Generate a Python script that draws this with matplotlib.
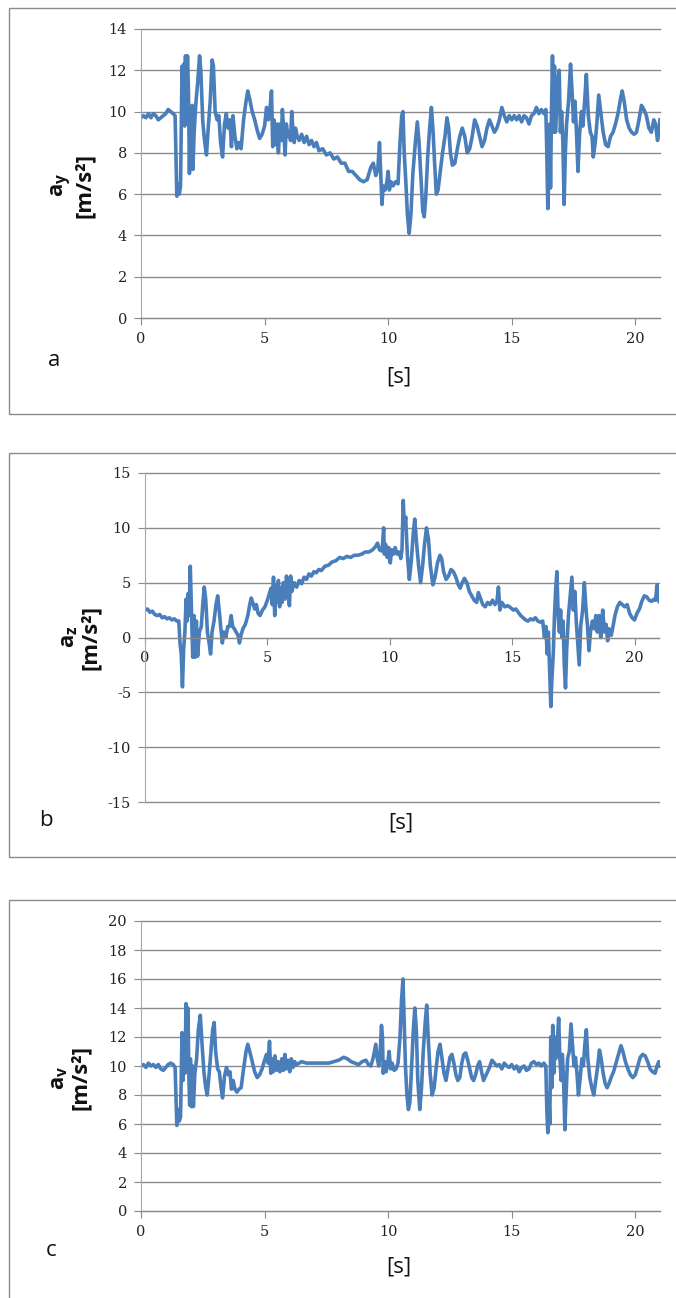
import matplotlib
matplotlib.use("Agg")
import matplotlib.pyplot as plt
from matplotlib.patches import Rectangle

# ---- data (time [s], value [m/s^2]) ----
ay_points = [
    (0.0, 9.7), (0.1, 9.8), (0.2, 9.7), (0.3, 9.9), (0.4, 9.7), (0.5, 9.9), (0.6, 9.8), (0.7, 9.6),
    (0.8, 9.7), (0.9, 9.8), (1.0, 9.9), (1.1, 10.1), (1.2, 10.0), (1.3, 9.9), (1.38, 9.8),
    (1.42, 7.5), (1.45, 5.9), (1.5, 6.5), (1.55, 6.0), (1.6, 6.4), (1.63, 9.5), (1.66, 12.2),
    (1.7, 9.6), (1.73, 12.3), (1.77, 9.3), (1.8, 12.7), (1.84, 9.6), (1.88, 12.7), (1.92, 11.0),
    (1.96, 7.0), (2.0, 10.0), (2.03, 7.3), (2.07, 10.3), (2.1, 7.2), (2.15, 9.0), (2.22, 10.4),
    (2.3, 11.5), (2.37, 12.7), (2.42, 12.0), (2.5, 9.5), (2.58, 8.5), (2.65, 7.9), (2.72, 9.2),
    (2.8, 10.5), (2.88, 12.5), (2.93, 12.2), (3.0, 10.0), (3.08, 9.6), (3.15, 9.8), (3.22, 8.5),
    (3.3, 7.8), (3.38, 9.4), (3.45, 9.9), (3.52, 9.2), (3.6, 9.6), (3.66, 8.3), (3.72, 9.8),
    (3.8, 8.8), (3.88, 8.2), (3.95, 8.5), (4.05, 8.2), (4.15, 9.6), (4.25, 10.5), (4.32, 11.0),
    (4.4, 10.6), (4.5, 10.0), (4.6, 9.6), (4.7, 9.1), (4.8, 8.7), (4.9, 8.9), (5.0, 9.3),
    (5.08, 10.2), (5.15, 9.6), (5.2, 9.9), (5.28, 11.0), (5.33, 8.3), (5.38, 9.6), (5.45, 8.4),
    (5.5, 9.4), (5.56, 8.0), (5.62, 9.4), (5.68, 8.6), (5.72, 10.1), (5.78, 9.0), (5.83, 7.9),
    (5.88, 9.4), (5.95, 8.8), (6.0, 9.0), (6.05, 8.6), (6.1, 10.0), (6.15, 9.0), (6.2, 8.5),
    (6.25, 9.2), (6.32, 8.8), (6.4, 8.6), (6.5, 8.9), (6.6, 8.5), (6.7, 8.8), (6.8, 8.4),
    (6.9, 8.6), (7.0, 8.3), (7.1, 8.5), (7.2, 8.1), (7.35, 8.2), (7.5, 7.9), (7.65, 8.0),
    (7.8, 7.7), (7.95, 7.8), (8.1, 7.5), (8.25, 7.5), (8.4, 7.1), (8.55, 7.1), (8.7, 6.9),
    (8.85, 6.7), (9.0, 6.6), (9.15, 6.7), (9.3, 7.3), (9.4, 7.5), (9.5, 6.9), (9.58, 7.2),
    (9.65, 8.5), (9.7, 7.0), (9.75, 5.5), (9.8, 6.4), (9.88, 6.2), (9.95, 6.6), (10.0, 7.1),
    (10.05, 6.2), (10.12, 6.6), (10.2, 6.4), (10.3, 6.6), (10.4, 6.5), (10.48, 8.5), (10.55, 9.8),
    (10.6, 10.0), (10.65, 8.0), (10.72, 6.5), (10.78, 5.0), (10.85, 4.1), (10.92, 5.0), (11.0, 7.0),
    (11.1, 8.5), (11.18, 9.5), (11.25, 8.5), (11.32, 7.0), (11.4, 5.2), (11.46, 4.9), (11.52, 5.8),
    (11.6, 7.8), (11.68, 9.2), (11.75, 10.2), (11.82, 9.0), (11.88, 7.5), (11.95, 6.0), (12.02, 6.2),
    (12.1, 7.0), (12.2, 8.0), (12.3, 8.8), (12.38, 9.7), (12.45, 9.2), (12.52, 8.0), (12.6, 7.4),
    (12.7, 7.5), (12.8, 8.2), (12.9, 8.8), (13.0, 9.2), (13.1, 8.8), (13.2, 8.0), (13.3, 8.2),
    (13.4, 8.8), (13.5, 9.6), (13.6, 9.3), (13.7, 8.8), (13.8, 8.3), (13.9, 8.6), (14.0, 9.2),
    (14.1, 9.6), (14.2, 9.3), (14.3, 9.0), (14.4, 9.2), (14.5, 9.6), (14.6, 10.2), (14.7, 9.8),
    (14.8, 9.5), (14.9, 9.8), (15.0, 9.6), (15.1, 9.8), (15.2, 9.6), (15.3, 9.8), (15.4, 9.5),
    (15.5, 9.8), (15.6, 9.7), (15.7, 9.4), (15.8, 9.8), (15.9, 9.9), (16.0, 10.2), (16.1, 9.9),
    (16.2, 10.1), (16.3, 9.9), (16.38, 10.1), (16.42, 8.0), (16.46, 5.3), (16.5, 6.8), (16.54, 9.4),
    (16.57, 6.3), (16.61, 10.0), (16.65, 12.7), (16.69, 9.0), (16.73, 12.2), (16.77, 9.0),
    (16.82, 10.2), (16.87, 11.5), (16.92, 12.0), (16.97, 9.0), (17.02, 10.0), (17.07, 8.5),
    (17.12, 5.5), (17.17, 8.0), (17.22, 9.4), (17.3, 10.5), (17.38, 12.3), (17.44, 11.0),
    (17.5, 9.5), (17.56, 10.5), (17.62, 9.0), (17.68, 7.1), (17.75, 9.0), (17.82, 10.0),
    (17.88, 9.3), (17.95, 10.5), (18.02, 11.8), (18.1, 9.8), (18.18, 9.0), (18.25, 8.8),
    (18.3, 7.8), (18.38, 8.5), (18.45, 9.5), (18.52, 10.8), (18.6, 10.0), (18.7, 9.0), (18.8, 8.4),
    (18.9, 8.3), (19.0, 8.8), (19.1, 9.0), (19.2, 9.4), (19.3, 9.9), (19.4, 10.6), (19.47, 11.0),
    (19.55, 10.5), (19.65, 9.6), (19.75, 9.2), (19.85, 9.0), (19.95, 8.9), (20.05, 9.0),
    (20.15, 9.6), (20.25, 10.3), (20.35, 10.1), (20.45, 9.8), (20.55, 9.2), (20.65, 9.0),
    (20.75, 9.6), (20.82, 9.4), (20.9, 8.6), (20.95, 9.0), (21.0, 9.6),
]

az_points = [
    (0.0, 2.5), (0.1, 2.6), (0.2, 2.3), (0.3, 2.4), (0.4, 2.1), (0.5, 2.0), (0.6, 2.1), (0.7, 1.8),
    (0.8, 1.9), (0.9, 1.7), (1.0, 1.8), (1.1, 1.6), (1.2, 1.7), (1.3, 1.5), (1.38, 1.5),
    (1.43, -0.5), (1.48, -1.5), (1.53, -4.5), (1.58, -1.0), (1.63, 0.5), (1.68, 3.5), (1.72, 1.5),
    (1.76, 4.0), (1.8, 2.0), (1.85, 6.5), (1.9, 2.5), (1.95, -1.8), (2.0, 2.0), (2.05, -1.8),
    (2.1, 1.5), (2.15, -1.7), (2.22, 0.5), (2.3, 1.0), (2.36, 3.0), (2.42, 4.6), (2.48, 3.5),
    (2.55, 0.5), (2.62, -0.5), (2.68, -1.5), (2.74, 0.5), (2.82, 1.5), (2.9, 3.0), (2.97, 3.8),
    (3.03, 2.5), (3.1, 0.8), (3.16, -0.5), (3.22, 0.5), (3.3, 0.0), (3.38, 1.0), (3.45, 1.0),
    (3.52, 2.0), (3.58, 1.0), (3.65, 0.8), (3.72, 0.5), (3.8, 0.2), (3.86, -0.5), (3.92, 0.2),
    (4.0, 0.8), (4.1, 1.2), (4.2, 2.0), (4.28, 3.0), (4.34, 3.6), (4.4, 3.2), (4.48, 2.6),
    (4.55, 3.0), (4.62, 2.2), (4.7, 2.0), (4.8, 2.5), (4.9, 2.8), (5.0, 3.4), (5.08, 4.0),
    (5.15, 4.5), (5.2, 3.0), (5.25, 5.5), (5.3, 2.0), (5.35, 4.8), (5.4, 3.2), (5.45, 5.2),
    (5.5, 2.8), (5.55, 4.5), (5.6, 3.2), (5.65, 5.0), (5.72, 3.5), (5.78, 5.6), (5.85, 4.2),
    (5.9, 2.9), (5.95, 5.6), (6.0, 4.2), (6.1, 5.0), (6.2, 4.6), (6.3, 5.2), (6.4, 4.9),
    (6.5, 5.5), (6.6, 5.3), (6.7, 5.8), (6.8, 5.6), (6.9, 6.0), (7.0, 5.9), (7.1, 6.2),
    (7.2, 6.1), (7.35, 6.5), (7.5, 6.6), (7.65, 6.9), (7.8, 7.0), (7.95, 7.3), (8.1, 7.2),
    (8.25, 7.4), (8.4, 7.3), (8.55, 7.5), (8.7, 7.5), (8.85, 7.6), (9.0, 7.8), (9.15, 7.8),
    (9.3, 8.0), (9.42, 8.3), (9.5, 8.6), (9.58, 8.0), (9.65, 7.9), (9.7, 8.3), (9.75, 10.0),
    (9.78, 7.6), (9.83, 8.5), (9.9, 7.3), (9.96, 8.2), (10.02, 6.8), (10.08, 8.0), (10.15, 7.6),
    (10.22, 8.2), (10.3, 7.6), (10.38, 7.8), (10.45, 7.2), (10.5, 8.0), (10.55, 12.5),
    (10.6, 10.0), (10.65, 11.0), (10.72, 7.5), (10.8, 5.3), (10.88, 7.0), (10.96, 9.5),
    (11.02, 10.8), (11.1, 8.5), (11.18, 6.5), (11.26, 5.0), (11.34, 6.5), (11.42, 8.5),
    (11.5, 10.0), (11.58, 9.0), (11.66, 6.5), (11.76, 4.8), (11.85, 5.5), (11.95, 6.8),
    (12.05, 7.5), (12.12, 7.2), (12.2, 6.0), (12.3, 5.3), (12.4, 5.6), (12.5, 6.2), (12.6, 6.0),
    (12.7, 5.5), (12.8, 4.8), (12.88, 4.5), (12.96, 5.0), (13.05, 5.4), (13.15, 5.0), (13.25, 4.2),
    (13.35, 3.8), (13.45, 3.4), (13.55, 3.2), (13.62, 4.1), (13.7, 3.6), (13.8, 3.0), (13.9, 2.8),
    (14.0, 3.2), (14.1, 3.0), (14.2, 3.4), (14.3, 3.0), (14.38, 3.3), (14.44, 4.6), (14.5, 2.5),
    (14.58, 3.2), (14.7, 2.8), (14.82, 2.9), (14.95, 2.7), (15.05, 2.5), (15.15, 2.6),
    (15.25, 2.3), (15.35, 2.0), (15.45, 1.8), (15.55, 1.6), (15.65, 1.5), (15.75, 1.7),
    (15.85, 1.6), (15.95, 1.8), (16.05, 1.5), (16.15, 1.4), (16.25, 1.5), (16.32, 0.0),
    (16.38, 1.0), (16.43, -1.5), (16.48, 0.5), (16.53, -3.0), (16.58, -6.3), (16.63, -3.5),
    (16.68, -1.5), (16.73, 2.0), (16.78, 4.5), (16.83, 6.0), (16.88, 2.0), (16.93, 0.5),
    (16.98, 2.5), (17.03, 0.0), (17.08, 1.5), (17.13, -2.5), (17.18, -4.6), (17.23, -1.0),
    (17.3, 2.0), (17.38, 4.0), (17.44, 5.5), (17.5, 2.5), (17.56, 4.2), (17.62, 1.5),
    (17.68, -0.5), (17.74, -2.5), (17.8, 1.0), (17.88, 2.5), (17.95, 5.0), (18.02, 2.5),
    (18.08, 1.0), (18.14, -1.2), (18.2, 0.5), (18.28, 1.5), (18.35, 0.8), (18.42, 2.0),
    (18.48, 0.5), (18.55, 2.0), (18.62, 0.0), (18.7, 2.5), (18.77, 0.5), (18.84, 1.2),
    (18.9, -0.3), (18.96, 0.8), (19.05, 0.2), (19.12, 1.0), (19.2, 2.0), (19.3, 2.8), (19.4, 3.2),
    (19.5, 3.0), (19.6, 2.8), (19.7, 3.0), (19.8, 2.2), (19.9, 1.8), (20.0, 1.6), (20.1, 2.2),
    (20.2, 2.6), (20.3, 3.3), (20.4, 3.8), (20.5, 3.7), (20.6, 3.4), (20.7, 3.3), (20.8, 3.5),
    (20.86, 3.4), (20.92, 4.8), (20.96, 3.5), (21.0, 3.3),
]

av_points = [
    (0.0, 10.0), (0.1, 10.1), (0.2, 9.9), (0.3, 10.2), (0.4, 10.0), (0.5, 10.1), (0.6, 9.9),
    (0.7, 10.1), (0.8, 9.8), (0.9, 9.7), (1.0, 9.9), (1.1, 10.1), (1.2, 10.2), (1.3, 10.1),
    (1.38, 9.9), (1.42, 7.5), (1.45, 5.9), (1.5, 7.0), (1.55, 6.2), (1.6, 6.5), (1.63, 9.5),
    (1.66, 12.3), (1.7, 9.0), (1.74, 12.0), (1.78, 9.5), (1.82, 14.3), (1.86, 11.0), (1.9, 14.0),
    (1.94, 9.0), (1.97, 7.3), (2.0, 10.5), (2.04, 7.2), (2.08, 10.0), (2.12, 7.2), (2.18, 9.5),
    (2.25, 10.5), (2.32, 12.5), (2.4, 13.5), (2.47, 11.5), (2.55, 9.5), (2.62, 8.5), (2.68, 8.0),
    (2.75, 9.3), (2.82, 10.8), (2.9, 12.5), (2.96, 13.0), (3.02, 11.0), (3.1, 9.8), (3.17, 9.6),
    (3.24, 8.5), (3.3, 7.8), (3.38, 9.3), (3.46, 9.9), (3.53, 9.4), (3.6, 9.6), (3.66, 8.4),
    (3.73, 9.0), (3.8, 8.4), (3.88, 8.2), (3.96, 8.4), (4.05, 8.5), (4.15, 9.8), (4.25, 11.0),
    (4.32, 11.5), (4.4, 11.0), (4.5, 10.3), (4.6, 9.6), (4.7, 9.2), (4.8, 9.4), (4.9, 9.8),
    (5.0, 10.4), (5.08, 10.8), (5.14, 10.2), (5.2, 11.7), (5.25, 9.5), (5.3, 10.5), (5.35, 9.6),
    (5.42, 10.7), (5.48, 9.7), (5.55, 10.3), (5.62, 9.6), (5.7, 10.5), (5.76, 9.7), (5.82, 10.8),
    (5.88, 9.8), (5.95, 10.4), (6.02, 9.6), (6.08, 10.5), (6.15, 9.9), (6.22, 10.3), (6.3, 10.1),
    (6.5, 10.3), (6.7, 10.2), (7.0, 10.2), (7.3, 10.2), (7.6, 10.2), (7.8, 10.3), (8.0, 10.4),
    (8.2, 10.6), (8.35, 10.5), (8.5, 10.3), (8.65, 10.2), (8.8, 10.1), (8.95, 10.3), (9.1, 10.4),
    (9.2, 10.1), (9.3, 10.0), (9.4, 10.6), (9.5, 11.5), (9.56, 10.5), (9.62, 10.0), (9.68, 11.0),
    (9.73, 12.8), (9.77, 12.0), (9.8, 9.5), (9.86, 10.3), (9.92, 9.6), (9.98, 10.2), (10.04, 11.0),
    (10.1, 9.8), (10.16, 10.2), (10.24, 9.7), (10.32, 9.8), (10.4, 10.2), (10.48, 12.0),
    (10.54, 14.5), (10.6, 16.0), (10.65, 13.0), (10.7, 10.0), (10.76, 8.0), (10.82, 7.0),
    (10.88, 7.5), (10.95, 10.0), (11.02, 12.5), (11.08, 14.0), (11.14, 12.5), (11.2, 9.0),
    (11.28, 7.0), (11.35, 8.5), (11.42, 11.0), (11.5, 13.0), (11.56, 14.2), (11.62, 12.0),
    (11.7, 9.5), (11.78, 8.0), (11.86, 8.5), (11.94, 9.8), (12.02, 11.0), (12.1, 11.5),
    (12.18, 10.5), (12.26, 9.5), (12.34, 9.0), (12.42, 9.8), (12.5, 10.6), (12.58, 10.8),
    (12.66, 10.2), (12.74, 9.4), (12.82, 9.0), (12.9, 9.2), (12.98, 10.2), (13.06, 10.8),
    (13.14, 10.9), (13.22, 10.4), (13.3, 9.8), (13.38, 9.2), (13.46, 9.0), (13.54, 9.4),
    (13.62, 10.0), (13.7, 10.3), (13.78, 9.6), (13.86, 9.0), (13.94, 9.3), (14.02, 9.6),
    (14.1, 9.9), (14.2, 10.4), (14.3, 10.2), (14.4, 10.0), (14.5, 10.1), (14.6, 9.8), (14.7, 10.2),
    (14.8, 10.0), (14.9, 9.9), (15.0, 10.1), (15.1, 9.8), (15.2, 10.0), (15.3, 9.6), (15.4, 9.9),
    (15.5, 10.0), (15.6, 9.7), (15.7, 9.8), (15.8, 10.2), (15.9, 10.3), (16.0, 10.1), (16.1, 10.2),
    (16.2, 10.0), (16.3, 10.2), (16.38, 10.0), (16.42, 7.0), (16.46, 5.4), (16.5, 8.0),
    (16.54, 6.0), (16.58, 12.0), (16.62, 8.5), (16.66, 12.8), (16.7, 9.5), (16.74, 12.0),
    (16.78, 10.5), (16.84, 11.5), (16.9, 13.3), (16.95, 10.5), (17.0, 9.0), (17.05, 10.8),
    (17.1, 9.0), (17.15, 5.6), (17.2, 8.0), (17.26, 10.5), (17.33, 11.0), (17.4, 12.9),
    (17.46, 11.5), (17.52, 10.0), (17.58, 10.6), (17.64, 9.5), (17.7, 8.0), (17.76, 9.0),
    (17.84, 10.5), (17.9, 10.0), (17.96, 11.5), (18.02, 12.5), (18.08, 10.5), (18.16, 9.2),
    (18.24, 8.5), (18.32, 8.0), (18.4, 9.0), (18.48, 10.0), (18.55, 11.1), (18.62, 10.5),
    (18.7, 9.5), (18.78, 8.8), (18.86, 8.5), (18.94, 8.8), (19.02, 9.2), (19.12, 9.6),
    (19.22, 10.2), (19.32, 10.8), (19.42, 11.4), (19.5, 11.0), (19.6, 10.3), (19.7, 9.8),
    (19.8, 9.4), (19.9, 9.2), (20.0, 9.4), (20.1, 10.0), (20.2, 10.6), (20.3, 10.8), (20.4, 10.7),
    (20.5, 10.3), (20.6, 9.8), (20.7, 9.6), (20.8, 9.5), (20.88, 10.0), (20.95, 10.3), (21.0, 10.0),
]

x_ticks = [0, 5, 10, 15, 20]
ay_ticks = list(range(0, 15, 2))
az_ticks = list(range(-15, 16, 5))
av_ticks = list(range(0, 21, 2))

LINE = "#4A7EBB"
GRID = "#8a8a8a"
W, H = 676, 1298

plt.rcParams["axes.unicode_minus"] = False
plt.rcParams["mathtext.fontset"] = "custom"
plt.rcParams["mathtext.rm"] = "Open Sans:bold"
plt.rcParams["mathtext.it"] = "Open Sans:bold"
plt.rcParams["mathtext.bf"] = "Open Sans:bold"

fig = plt.figure(figsize=(W / 100, H / 100), dpi=100)


def box(x0, y0, x1, y1):
    # x/y in pixels from top-left
    return [x0 / W, 1 - y1 / H, (x1 - x0) / W, (y1 - y0) / H]


def panel(rect, points, yticks, zero_axis=False):
    ax = fig.add_axes(box(*rect))
    t = [p[0] for p in points]
    v = [p[1] for p in points]
    ax.plot(t, v, color=LINE, lw=2.6, solid_joinstyle="round")
    ax.set_xlim(0, 21)
    ax.set_ylim(yticks[0], yticks[-1])
    ax.set_xticks(x_ticks)
    ax.set_yticks(yticks)
    ax.yaxis.grid(True, color=GRID, lw=1)
    for gl in ax.get_ygridlines():
        gl.set_clip_on(False)
    ax.set_axisbelow(True)
    for s in ("top", "right"):
        ax.spines[s].set_visible(False)
    ax.spines["left"].set_color("#a8a8a8")
    ax.spines["bottom"].set_color(GRID)
    if zero_axis:
        ax.spines["bottom"].set_position(("data", 0))
    ax.tick_params(direction="out", length=5, color=GRID, labelsize=10.5, pad=5)
    for lab in ax.get_xticklabels() + ax.get_yticklabels():
        lab.set_family("DejaVu Serif")
        lab.set_color("#222222")
    return ax


# frames around each sub-figure
for y0, y1 in ((8, 414), (453, 857), (900, 1400)):
    fig.patches.append(Rectangle((9 / W, 1 - y1 / H), 2.0, (y1 - y0) / H,
                                 transform=fig.transFigure, fill=False,
                                 edgecolor="#8c8c8c", lw=1))

panel((141, 29, 660, 318), ay_points, ay_ticks)
panel((145, 473, 659, 802), az_points, az_ticks, zero_axis=True)
panel((141, 921, 660, 1211), av_points, av_ticks)


def ftext(x, y, s, **kw):
    fig.text(x / W, 1 - y / H, s, ha="center", va="center", **kw)


lab_font = dict(family="Open Sans", fontsize=16, color="#111111")
ylab_font = dict(family="Open Sans", fontsize=16, fontweight="bold", color="#111111",
                 rotation=90, multialignment="center", linespacing=1.0)

ftext(72, 185, "a$_\\mathregular{y}$\n[m/s²]", **ylab_font)
ftext(80, 637, "a$_\\mathregular{z}$\n[m/s²]", **ylab_font)
ftext(70, 1078, "a$_\\mathregular{v}$\n[m/s²]", **ylab_font)

ftext(54, 360, "a", **lab_font)
ftext(46, 820, "b", **lab_font)
ftext(51, 1250, "c", **lab_font)

ftext(399, 377, "[s]", **lab_font)
ftext(401, 823, "[s]", **lab_font)
ftext(399, 1267, "[s]", **lab_font)

fig.savefig("out.png", dpi=100)
